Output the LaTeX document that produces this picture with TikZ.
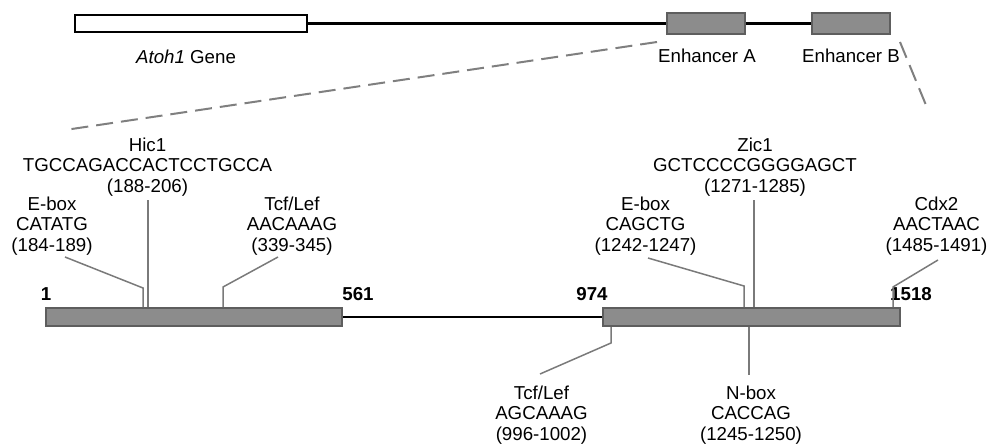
\documentclass[tikz,border=0pt]{standalone}
\usepackage{fontspec}
\setmainfont{Liberation Sans}
\definecolor{boxfill}{HTML}{8C8C8C}
\definecolor{boxedge}{HTML}{5E5E5E}
\definecolor{stemgray}{HTML}{7A7A7A}
\definecolor{dashgray}{HTML}{7F7F7F}
\begin{document}
\begin{tikzpicture}[x=1pt,y=-1pt,
  lbl/.style={font=\fontsize{18.7}{20.5}\selectfont, align=center, inner sep=0pt},
  num/.style={font=\fontsize{18.7}{20.5}\selectfont\bfseries, inner sep=0pt},
  exon/.style={draw=black, line width=2.2pt, fill=white, inner sep=0pt},
  enh/.style={draw=boxedge, line width=1.6pt, fill=boxfill, inner sep=0pt},
  stem/.style={draw=stemgray, line width=1.5pt},
  dline/.style={draw=dashgray, line width=2pt, dash pattern=on 17pt off 8pt},
  backbone/.style={draw=black, line width=2.4pt}]
\useasboundingbox (0,0) rectangle (991,444);

% top gene map
\node[exon, minimum width=232pt, minimum height=17pt] (gene) at (191,23.5) {};
\node[enh, minimum width=78.5pt, minimum height=20.5pt] (enhA) at (706,23.5) {};
\node[enh, minimum width=78.5pt, minimum height=20.5pt] (enhB) at (851,23.5) {};
\draw[backbone] (gene.east) -- (enhA.west);
\draw[backbone] (enhA.east) -- (enhB.west);
\node[lbl] (geneL) at (186,57) {\textit{Atoh1} Gene};
\node[lbl] (enhAL) at (707,56) {Enhancer A};
\node[lbl] (enhBL) at (851,56) {Enhancer B};

% zoom dashed lines
\coordinate (dA1) at (657,42);
\coordinate (dA2) at (65,130);
\coordinate (dB1) at (900,42);
\coordinate (dB2) at (928,110);
\draw[dline] (dA1) -- (dA2);
\draw[dline] (dB1) -- (dB2);

% enhancer detail
\node[enh, minimum width=296.5pt, minimum height=18.5pt] (boxL) at (194,317) {};
\node[enh, minimum width=297.5pt, minimum height=18.5pt] (boxR) at (751.5,317) {};
\draw[backbone] (boxL.east) -- (boxR.west);

\node[num] (n1) at (46,294) {1};
\node[num] (n561) at (358,294) {561};
\node[num] (n974) at (592,294) {974};
\node[num] (n1518) at (911,294) {1518};

% labels above
\node[lbl] (hic) at (147.5,167) {Hic1\\TGCCAGACCACTCCTGCCA\\(188-206)};
\node[lbl] (eboxL) at (52,226) {E-box\\CATATG\\(184-189)};
\node[lbl] (tcfL) at (292,226) {Tcf/Lef\\AACAAAG\\(339-345)};
\node[lbl] (zic) at (755,167) {Zic1\\GCTCCCCGGGGAGCT\\(1271-1285)};
\node[lbl] (eboxR) at (645.5,226) {E-box\\CAGCTG\\(1242-1247)};
\node[lbl] (cdx) at (936.5,226) {Cdx2\\AACTAAC\\(1485-1491)};
% labels below
\node[lbl] (tcfR) at (541.5,415) {Tcf/Lef\\AGCAAAG\\(996-1002)};
\node[lbl] (nbox) at (751,415) {N-box\\CACCAG\\(1245-1250)};

% stems
\coordinate (s1a) at (65,257);   \coordinate (s1b) at (143,288);  \coordinate (s1c) at (143,307);
\coordinate (s2a) at (148,200);  \coordinate (s2c) at (148,307);
\coordinate (s3a) at (278,257);  \coordinate (s3b) at (223,287);  \coordinate (s3c) at (223,307);
\coordinate (s4a) at (648,258);  \coordinate (s4b) at (744,286);  \coordinate (s4c) at (744,307);
\coordinate (s5a) at (754,200);  \coordinate (s5c) at (754,307);
\coordinate (s6a) at (938,260);  \coordinate (s6b) at (893,287);  \coordinate (s6c) at (893,307);
\coordinate (s7c) at (611,327);  \coordinate (s7b) at (611,343);  \coordinate (s7a) at (540,374);
\coordinate (s8c) at (749,327);  \coordinate (s8a) at (749,375);

\draw[stem] (s1a) -- (s1b) -- (s1c);
\draw[stem] (s2a) -- (s2c);
\draw[stem] (s3a) -- (s3b) -- (s3c);
\draw[stem] (s4a) -- (s4b) -- (s4c);
\draw[stem] (s5a) -- (s5c);
\draw[stem] (s6a) -- (s6b) -- (s6c);
\draw[stem] (s7c) -- (s7b) -- (s7a);
\draw[stem] (s8c) -- (s8a);
\end{tikzpicture}
\end{document}
